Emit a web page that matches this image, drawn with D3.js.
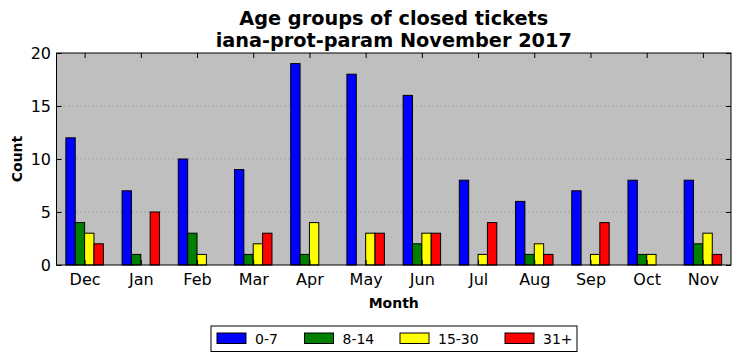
<!DOCTYPE html>
<html lang="en">
  <head>
    <meta charset="UTF-8" />
    <title>Age groups of closed tickets</title>
    <script src="https://cdn.jsdelivr.net/npm/d3@7"></script>
    <style>
      body { margin: 0; background: #fff; }
      svg { display: block; font-family: 'DejaVu Sans', sans-serif; }
    </style>
  </head>
  <body>
    <svg id="svgBox" width="741" height="361"></svg>
  </body>
  <script>
    const months = ['Dec', 'Jan', 'Feb', 'Mar', 'Apr', 'May', 'Jun', 'Jul', 'Aug', 'Sep', 'Oct', 'Nov']
    const groups = ['0-7', '8-14', '15-30', '31+']
    const colors = ['#0000ff', '#008000', '#ffff00', '#ff0000']
    const age0to7 = [12, 7, 10, 9, 19, 18, 16, 8, 6, 7, 8, 8]
    const age8to14 = [4, 1, 3, 1, 1, 0, 2, 0, 1, 0, 1, 2]
    const age15to30 = [3, 0, 1, 2, 4, 3, 3, 1, 2, 1, 1, 3]
    const age31plus = [2, 5, 0, 3, 0, 3, 3, 4, 1, 4, 0, 1]
    const yTicks = [0, 5, 10, 15, 20]

    const series = [age0to7, age8to14, age15to30, age31plus]
    const margin = { top: 53, right: 10, bottom: 96, left: 56.5 }
    const width = 741, height = 361
    const innerWidth = width - margin.left - margin.right
    const innerHeight = height - margin.top - margin.bottom

    const svg = d3.select('#svgBox')

    // scales
    const xScale = d3.scaleBand()
      .domain(months)
      .range([0, innerWidth])
      .paddingInner(1 / 3)
      .paddingOuter(1 / 6)
    const subScale = d3.scaleBand()
      .domain(groups)
      .range([0, xScale.bandwidth()])
    const yScale = d3.scaleLinear()
      .domain([0, 20])
      .range([innerHeight, 0])

    const g = svg.append('g')
      .attr('transform', `translate(${margin.left} ${margin.top})`)

    g.append('rect')
      .attr('width', innerWidth)
      .attr('height', innerHeight)
      .attr('fill', '#bfbfbf')

    // dotted grid
    g.append('g')
      .selectAll('line')
      .data(yTicks.slice(1, -1))
      .join('line')
      .attr('x1', 0)
      .attr('x2', innerWidth)
      .attr('y1', d => yScale(d))
      .attr('y2', d => yScale(d))
      .attr('stroke', '#8a8a8a')
      .attr('stroke-width', 1)
      .attr('stroke-dasharray', '1,3')

    // bars
    const rows = months.map((m, i) => groups.map((k, j) => ({ month: m, key: k, value: series[j][i], color: colors[j] })))
    g.append('g')
      .selectAll('g')
      .data(rows)
      .join('g')
      .attr('transform', d => `translate(${xScale(d[0].month)} 0)`)
      .selectAll('rect')
      .data(d => d)
      .join('rect')
      .attr('x', d => subScale(d.key))
      .attr('y', d => yScale(d.value))
      .attr('width', subScale.bandwidth())
      .attr('height', d => innerHeight - yScale(d.value))
      .attr('fill', d => d.color)
      .attr('stroke', '#000')
      .attr('stroke-width', 1)

    // axes, ticks inside
    const center = d => xScale(d) + xScale.bandwidth() / 2
    const xPoint = d3.scalePoint().domain(months).range([center(months[0]), center(months[months.length - 1])])
    const xBottom = d3.axisBottom(xPoint).tickSizeInner(-5).tickSizeOuter(0).tickPadding(8.5)
    const xTop = d3.axisTop(xPoint).tickSizeInner(-5).tickSizeOuter(0)
    const yLeft = d3.axisLeft(yScale).tickValues(yTicks).tickSizeInner(-5).tickSizeOuter(0).tickPadding(5.5)
    const yRight = d3.axisRight(yScale).tickValues(yTicks).tickSizeInner(-5).tickSizeOuter(0)

    g.append('g')
      .attr('transform', `translate(0 ${innerHeight})`)
      .call(xBottom)
      .attr('font-size', 16)
      .attr('font-family', 'DejaVu Sans')
    g.append('g').attr('class', 'mirror').call(xTop)
    g.append('g')
      .call(yLeft)
      .attr('font-size', 16)
      .attr('font-family', 'DejaVu Sans')
    g.append('g').attr('class', 'mirror').attr('transform', `translate(${innerWidth} 0)`).call(yRight)
    g.selectAll('.mirror text').remove()
    g.selectAll('.domain').remove()
    g.selectAll('.tick line').attr('stroke', '#000')
    g.selectAll('.tick text').attr('fill', '#000')

    // frame
    g.append('rect')
      .attr('width', innerWidth)
      .attr('height', innerHeight)
      .attr('fill', 'none')
      .attr('stroke', '#000')
      .attr('stroke-width', 1)

    // titles
    svg.append('text')
      .attr('x', margin.left + innerWidth / 2)
      .attr('y', 25)
      .attr('text-anchor', 'middle')
      .attr('font-size', 19.3)
      .attr('font-weight', 'bold')
      .text('Age groups of closed tickets')
    svg.append('text')
      .attr('x', margin.left + innerWidth / 2)
      .attr('y', 46.5)
      .attr('text-anchor', 'middle')
      .attr('font-size', 19.3)
      .attr('font-weight', 'bold')
      .text('iana-prot-param November 2017')
    svg.append('text')
      .attr('x', margin.left + innerWidth / 2)
      .attr('y', 308)
      .attr('text-anchor', 'middle')
      .attr('font-size', 14)
      .attr('font-weight', 'bold')
      .text('Month')
    svg.append('text')
      .attr('transform', `translate(22 ${margin.top + innerHeight / 2}) rotate(-90)`)
      .attr('text-anchor', 'middle')
      .attr('font-size', 14)
      .attr('font-weight', 'bold')
      .text('Count')

    // legend
    const legend = svg.append('g').attr('transform', 'translate(211 326)')
    legend.append('rect')
      .attr('width', 366)
      .attr('height', 25.5)
      .attr('fill', '#fff')
      .attr('stroke', '#000')
      .attr('stroke-width', 1)
    const itemX = [6, 93.5, 189, 294]
    const items = legend.selectAll('g.item')
      .data(groups)
      .join('g')
      .attr('class', 'item')
      .attr('transform', (d, i) => `translate(${itemX[i]} 0)`)
    items.append('rect')
      .attr('y', 7)
      .attr('width', 29)
      .attr('height', 10.5)
      .attr('fill', (d, i) => colors[i])
      .attr('stroke', '#000')
      .attr('stroke-width', 1)
    items.append('text')
      .attr('x', 38)
      .attr('y', 17.5)
      .attr('font-size', 14)
      .text(d => d)
  </script>
</html>
